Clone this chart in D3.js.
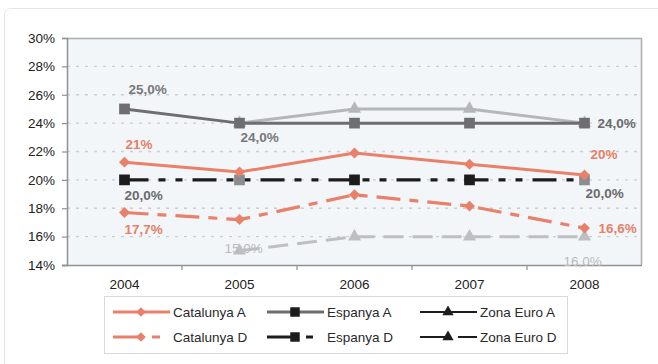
<!DOCTYPE html>
<html><head><meta charset="utf-8">
<script src="https://cdn.jsdelivr.net/npm/d3@7"></script>
<style>
html,body{margin:0;padding:0;background:#fff;}
svg{display:block;font-family:"Liberation Sans",Arial,sans-serif;}
</style></head>
<body><svg id="c" width="658" height="364"></svg>
<script>
const years = ["2004","2005","2006","2007","2008"];
const yTicks = [14,16,18,20,22,24,26,28,30];
const catalunyaA = [21.25, 20.55, 21.9, 21.1, 20.35];
const espanyaA = [25.0, 24.0, 24.0, 24.0, 24.0];
const zonaEuroA = [null, 24.0, 25.0, 25.0, 24.0];
const catalunyaD = [17.7, 17.2, 18.95, 18.15, 16.6];
const espanyaD = [20.0, 20.0, 20.0, 20.0, 20.0];
const zonaEuroD = [null, 15.0, 16.0, 16.0, 16.0];
const seriesNames = ["Catalunya A","Espanya A","Zona Euro A","Catalunya D","Espanya D","Zona Euro D"];
const labelTexts = ["25,0%","24,0%","24,0%","21%","20%","20,0%","20,0%","17,7%","16,6%","15,0%","16,0%"];

const svg = d3.select("#c");
const M = {l:67, r:642, t:38, b:265};
const x = d3.scaleBand().domain(years).range([M.l, M.r]);
const cx = d => x(d) + x.bandwidth()/2;
const y = d3.scaleLinear().domain([14,30]).range([M.b, M.t]);

svg.append("rect").attr("x",4.5).attr("y",8.5).attr("width",660).attr("height",380)
  .attr("rx",6).attr("fill","#fff").attr("stroke","#e4e6e8");
svg.append("rect").attr("x",M.l).attr("y",M.t).attr("width",M.r-M.l).attr("height",M.b-M.t)
  .attr("fill","#f3f6f8");
svg.append("g").selectAll("line").data(yTicks.filter(v=>v>14&&v<30)).join("line")
  .attr("x1",M.l).attr("x2",M.r).attr("y1",d=>y(d)).attr("y2",d=>y(d))
  .attr("stroke","#c9ced2").attr("stroke-width",1.3).attr("stroke-dasharray","3,6");
svg.append("path").attr("d",`M${M.l},${M.t+0.5}H${M.r-0.5}V${M.b}`).attr("fill","none")
  .attr("stroke","#a9adb0").attr("stroke-width",1.5);

const yAxis = d3.axisLeft(y).tickValues(yTicks).tickFormat(d=>d+"%").tickSize(5).tickPadding(7);
const gy = svg.append("g").attr("transform",`translate(${M.l},0)`).call(yAxis);
const xAxis = d3.axisBottom(x).tickSize(0).tickPadding(14);
const gx = svg.append("g").attr("transform",`translate(0,${M.b})`).call(xAxis);
[gy,gx].forEach(g=>{
  g.select(".domain").attr("stroke","#8e9296").attr("stroke-width",1.5);
  g.selectAll(".tick line").attr("stroke","#8e9296").attr("stroke-width",1.2);
  g.selectAll("text").attr("fill","#222").attr("font-size",13.5);
});
gx.select(".domain").attr("d",`M${M.l-5},0.5H${M.r}`);
svg.append("g").selectAll("line").data(years.slice(1)).join("line")
  .attr("x1",d=>x(d)).attr("x2",d=>x(d)).attr("y1",M.b).attr("y2",M.b+5)
  .attr("stroke","#8e9296").attr("stroke-width",1.2);

const SAL = "#e8806a", DG="#6e6e70", LG="#b4b6b8", BK="#1c1c1c", LG2="#bdbfc1";
const series = [
  {name:seriesNames[0], data:catalunyaA, color:SAL, dash:null, w:3, marker:"diamond", mcol:[SAL]},
  {name:seriesNames[1], data:espanyaA, color:DG, dash:null, w:3, marker:"square", mcol:[DG]},
  {name:seriesNames[2], data:zonaEuroA, color:LG, dash:null, w:3, marker:"triangle", mcol:[LG]},
  {name:seriesNames[3], data:catalunyaD, color:SAL, dash:"24,9,9,9", w:3.2, marker:"diamond", mcol:[SAL]},
  {name:seriesNames[4], data:espanyaD, color:BK, dash:"24,10,7,10,7,10", w:3.4, marker:"square", mcol:[BK,"#8a8c8e",BK,BK,"#8a8c8e"]},
  {name:seriesNames[5], data:zonaEuroD, color:LG2, dash:"20,9", w:3, marker:"triangle", mcol:[LG2]},
];
const order = [2,5,1,4,3,0];
const line = d3.line().defined(d=>d.v!=null).x(d=>cx(d.k)).y(d=>y(d.v));
function symPath(type,size){
  const t = type==="triangle"?d3.symbolTriangle:d3.symbolSquare;
  return d3.symbol().type(t).size(size)();
}
function symTransform(type, px, py){
  return `translate(${px},${py})` + (type==="diamond" ? " rotate(45)" : "");
}
const MS = {square:115, diamond:60, triangle:75};
order.forEach(i=>{
  const s = series[i];
  const pts = years.map((k,j)=>({k, v:s.data[j], j}));
  svg.append("path").datum(pts).attr("d",line).attr("fill","none")
    .attr("stroke",s.color).attr("stroke-width",s.w).attr("stroke-dasharray",s.dash)
    .attr("stroke-linejoin","round");
  svg.append("g").selectAll("path").data(pts.filter(p=>p.v!=null)).join("path")
    .attr("d",symPath(s.marker, MS[s.marker]))
    .attr("transform",p=>symTransform(s.marker, cx(p.k), y(p.v)))
    .attr("fill",p=>s.mcol[p.j] || s.mcol[0]);
});

const labels = [
  [0,1,0, 4,-15,"start","#77787a"],
  [1,1,1, 1,19,"start","#77787a"],
  [2,1,4, 13,5,"start","#6a6b6d"],
  [3,0,0, 1,-13,"start",SAL],
  [4,0,4, 6,-16,"start",SAL],
  [5,4,0, 0,20,"start","#6a6b6d"],
  [6,4,4, 1,18,"start","#6a6b6d"],
  [7,3,0, 0,21,"start",SAL],
  [8,3,4, 14,5,"start",SAL],
  [9,5,1, -15,2,"start","#b9bbbd"],
  [10,5,4, -21,29,"start","#b9bbbd"],
];
svg.append("g").selectAll("text").data(labels).join("text")
  .attr("x",d=>cx(years[d[2]])+d[3]).attr("y",d=>y(series[d[1]].data[d[2]])+d[4])
  .attr("text-anchor",d=>d[5]).attr("fill",d=>d[6])
  .attr("font-size",13.5).attr("font-weight",d=>d[0]>=9?"normal":"bold")
  .text(d=>labelTexts[d[0]]);

const lg = svg.append("g");
lg.append("rect").attr("x",104.5).attr("y",296.5).attr("width",463).attr("height",57)
  .attr("fill","#fff").attr("stroke","#d7dadc");
const lx = [113,267,420], ly=[312,337];
const LMS = {square:90, diamond:45, triangle:55};
const legendDash = [null,null,null,"30,9,8,100","30,9,7,100","27,11,20"];
series.forEach((s,i)=>{
  const col = i%3, row = Math.floor(i/3);
  const x0 = lx[col], y0 = ly[row], w = 57;
  const isEuro = (i===2||i===5);
  lg.append("line").attr("x1",x0).attr("x2",x0+w).attr("y1",y0).attr("y2",y0)
    .attr("stroke", isEuro ? BK : s.color)
    .attr("stroke-width", isEuro ? 2 : 3)
    .attr("stroke-dasharray", legendDash[i]);
  lg.append("path").attr("d",symPath(s.marker, LMS[s.marker]))
    .attr("transform",symTransform(s.marker, x0+28, y0))
    .attr("fill", i===0||i===3 ? SAL : BK);
  lg.append("text").attr("x",x0+60).attr("y",y0+5)
    .attr("font-size",13.5).attr("fill","#2a2a2a").text(s.name);
});
</script></body></html>
